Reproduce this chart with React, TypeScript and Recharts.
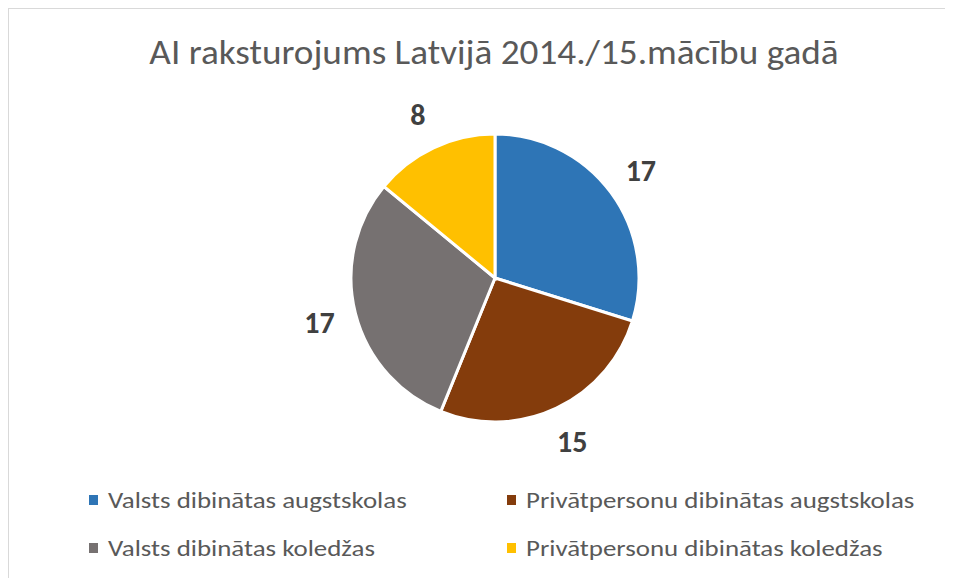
import React from "react";
import { PieChart, Pie, Cell, Legend } from "recharts";

// chart data
const categories = [
  "Valsts dibinātas augstskolas",
  "Privātpersonu dibinātas augstskolas",
  "Valsts dibinātas koledžas",
  "Privātpersonu dibinātas koledžas",
];
const values = [17, 15, 17, 8];
const colors = ["#2E75B6", "#843C0C", "#767171", "#FFC000"];
const title = "AI raksturojums Latvijā 2014./15.mācību gadā";

const FONT = "Carlito, Calibri, 'Open Sans', sans-serif";
const RADIAN = Math.PI / 180;

const data = categories.map((name, i) => ({ name, value: values[i] }));

const renderLabel = (props: any) => {
  const { cx, cy, midAngle, outerRadius, value } = props;
  const r = outerRadius + 37;
  const x = cx + r * Math.cos(-midAngle * RADIAN);
  const y = cy + r * Math.sin(-midAngle * RADIAN);
  return (
    <text
      x={x}
      y={y}
      fill="#404040"
      textAnchor="middle"
      dominantBaseline="central"
      fontFamily={FONT}
      fontWeight="bold"
      fontSize={30}
    >
      {value}
    </text>
  );
};

// two column legend like the Excel one (text is a bit stretched there)
const LegendBox = () => {
  const cols = [80, 498];
  const rows = [21, 69];
  return (
    <svg width={945} height={95} style={{ display: "block" }}>
      {categories.map((name, i) => {
        const x = cols[i % 2];
        const y = rows[Math.floor(i / 2)];
        return (
          <g key={name}>
            <rect x={x} y={y - 5} width={9} height={10} fill={colors[i]} />
            <text
              transform={`translate(${x + 19},${y + 8}) scale(1.17,1)`}
              fontFamily={FONT}
              fontSize={23}
              fill="#595959"
            >
              {name}
            </text>
          </g>
        );
      })}
    </svg>
  );
};

export default function App() {
  return (
    <div
      style={{
        position: "relative",
        width: 960,
        height: 580,
        borderTop: "1px solid #d9d9d9",
        borderLeft: "1px solid #d9d9d9",
        background: "#fff",
      }}
    >
      <svg
        width={945}
        height={80}
        style={{ position: "absolute", left: 0, top: 0 }}
      >
        <text
          transform="translate(485,55) scale(1.095,1)"
          textAnchor="middle"
          fontFamily={FONT}
          fontSize={34}
          fill="#595959"
        >
          {title}
        </text>
      </svg>
      <PieChart
        width={945}
        height={570}
        margin={{ top: 0, right: 0, bottom: 0, left: 0 }}
      >
        <Pie
          data={data}
          dataKey="value"
          nameKey="name"
          cx={486}
          cy={269}
          outerRadius={144}
          startAngle={90}
          endAngle={-270}
          stroke="#fff"
          strokeWidth={3}
          label={renderLabel}
          labelLine={false}
          isAnimationActive={false}
        >
          {data.map((entry, index) => (
            <Cell key={`cell-${index}`} fill={colors[index]} />
          ))}
        </Pie>
        <Legend
          content={() => <LegendBox />}
          wrapperStyle={{ left: 0, top: 470, width: 945 }}
        />
      </PieChart>
    </div>
  );
}
